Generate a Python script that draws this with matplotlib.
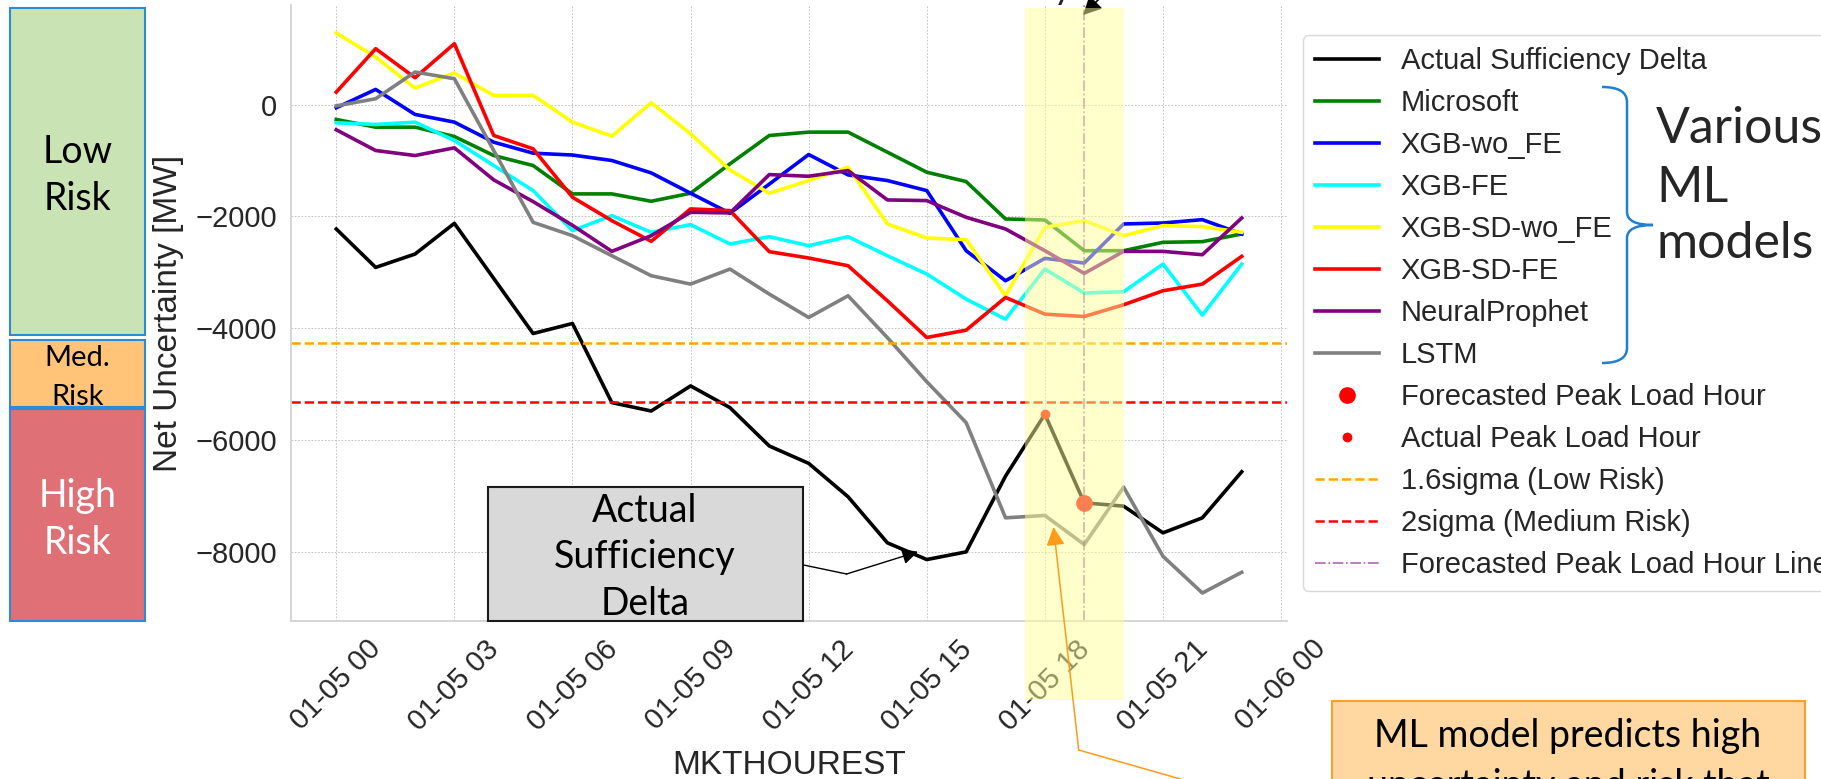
import numpy as np
import pandas as pd
import matplotlib
matplotlib.use("Agg")
import matplotlib.pyplot as plt
import matplotlib.dates as mdates
from matplotlib.patches import Rectangle, PathPatch, FancyArrowPatch
from matplotlib.path import Path
from matplotlib.lines import Line2D
from matplotlib.transforms import blended_transform_factory

# ---- data ----
hours = pd.date_range("2023-01-05 00:00", periods=24, freq="h")

actual = [-2224, -2912, -2673, -2123, -3110, -4096, -3916, -5333, -5483, -5034, -5423, -6110,
          -6421, -7019, -7844, -8143, -8006, -6649, -5542, -7127, -7187, -7665, -7396, -6571]
microsoft = [-263, -401, -401, -568, -909, -1088, -1596, -1596, -1728, -1584, -1058, -550,
             -490, -490, -849, -1208, -1375, -2045, -2063, -2613, -2613, -2463, -2451, -2314]
xgb_wo_fe = [-54, 275, -173, -311, -670, -867, -900, -998, -1220, -1584, -1943, -1420,
             -891, -1256, -1357, -1537, -2613, -3151, -2750, -2834, -2134, -2117, -2057, -2314]
xgb_fe = [-323, -353, -311, -640, -1088, -1537, -2254, -1985, -2284, -2146, -2493, -2362,
          -2523, -2362, -2703, -3031, -3480, -3839, -2942, -3372, -3348, -2852, -3767, -2852]
xgb_sd_wo_fe = [1285, 855, 299, 568, 167, 167, -311, -562, 36, -520, -1166, -1584,
                -1357, -1118, -2134, -2386, -2415, -3420, -2194, -2075, -2344, -2164, -2182, -2284]
xgb_sd_fe = [227, 1004, 484, 1094, -550, -789, -1656, -2075, -2445, -1865, -1895, -2631,
             -2744, -2882, -3510, -4167, -4036, -3450, -3749, -3791, -3581, -3330, -3211, -2714]
neural_prophet = [-448, -819, -909, -771, -1345, -1734, -2158, -2625, -2344, -1925, -1937, -1250,
                  -1280, -1178, -1704, -1716, -2015, -2224, -2613, -3019, -2625, -2625, -2685, -2027]
lstm = [-20, 108, 586, 466, -820, -2105, -2344, -2703, -3061, -3211, -2942, -3390,
        -3809, -3420, -4170, -4960, -5692, -7396, -7354, -7874, -6846, -8085, -8742, -8371]

model_names = ["Microsoft", "XGB-wo_FE", "XGB-FE", "XGB-SD-wo_FE", "XGB-SD-FE", "NeuralProphet", "LSTM"]
model_values = [microsoft, xgb_wo_fe, xgb_fe, xgb_sd_wo_fe, xgb_sd_fe, neural_prophet, lstm]
model_colors = ["green", "blue", "cyan", "yellow", "red", "purple", "gray"]

low_risk = -4270   # 1.6 sigma
med_risk = -5321   # 2 sigma
actual_peak = 18
forecast_peak = 19

# ---- figure setup ----
W, H = 1821, 779
plt.rcParams["font.family"] = ["Liberation Sans", "DejaVu Sans"]
plt.rcParams["text.color"] = "#262626"
plt.rcParams["axes.labelcolor"] = "#262626"
plt.rcParams["xtick.color"] = "#262626"
plt.rcParams["ytick.color"] = "#262626"

fig = plt.figure(figsize=(W / 100, H / 100), dpi=100)
ax = fig.add_axes([291 / W, 1 - 621 / H, 996 / W, 616 / H])


def fx(x):
    return x / W


def fy(y):
    return 1 - y / H


ax.plot(hours, actual, color="black", lw=2.6, label="Actual Sufficiency Delta")
for name, vals, c in zip(model_names, model_values, model_colors):
    ax.plot(hours, vals, color=c, lw=2.6, label=name)

ax.plot(hours[forecast_peak], actual[forecast_peak], "o", color="red", ms=11,
        label="Forecasted Peak Load Hour")
ax.plot(hours[actual_peak], actual[actual_peak], "o", color="red", ms=6,
        label="Actual Peak Load Hour")
ax.axhline(low_risk, color="orange", ls="--", lw=1.8, label="1.6sigma (Low Risk)")
ax.axhline(med_risk, color="red", ls="--", lw=1.8, label="2sigma (Medium Risk)")
ax.axvline(hours[forecast_peak], color="purple", alpha=0.6, ls="-.", lw=1.2,
           label="Forecasted Peak Load Hour Line")

ax.xaxis.set_major_locator(mdates.HourLocator(byhour=range(0, 24, 3)))
ax.xaxis.set_major_formatter(mdates.DateFormatter("%m-%d %H"))
ax.tick_params(axis="both", length=0, pad=10, labelsize=21)
ax.tick_params(axis="x", labelrotation=45)
ax.set_xlabel("MKTHOUREST", fontsize=24, labelpad=10)
ax.set_ylabel("Net Uncertainty [MW]", fontsize=24, labelpad=8)
ax.grid(True, color="#b8b8b8", ls=(0, (2, 2)), lw=0.6)
ax.set_axisbelow(True)
for s in ax.spines.values():
    s.set_color("#d0d0d0")
    s.set_linewidth(1.25)
ax.spines["top"].set_visible(False)
ax.spines["right"].set_visible(False)

leg = ax.legend(loc="upper left", bbox_to_anchor=(1.016, 0.951), borderaxespad=0,
                fontsize=21, labelspacing=0.48, handlelength=2.2, handletextpad=0.75,
                edgecolor="#d0d0d0", fancybox=True)
for t in leg.get_texts():
    t.set_color("#262626")

# ---- overlay annotations ----
lato = ["Lato", "DejaVu Sans"]


def lines_at(x, baselines, texts, size, color="black"):
    for yb, t in zip(baselines, texts):
        fig.text(fx(x), fy(yb), t, ha="center", va="baseline", fontsize=size,
                 family=lato, color=color, zorder=12)


# risk boxes on the left
risk_boxes = [(8, 335, "#c9e3b4"), (340, 407, "#ffc478"), (409, 621, "#de7076")]
for y0, y1, c in risk_boxes:
    fig.add_artist(Rectangle((fx(10), fy(y1)), 135 / W, (y1 - y0) / H, transform=fig.transFigure,
                             facecolor=c, edgecolor="#2a8cd2", lw=1.5, zorder=3))
lines_at(77.5, [163, 210], ["Low", "Risk"], 27)
lines_at(77.5, [366.5, 405], ["Med.", "Risk"], 21)
lines_at(77.5, [506.5, 553.5], ["High", "Risk"], 27, color="white")

# box for the actual line
fig.add_artist(Rectangle((fx(488), fy(621)), 315 / W, 134 / H, transform=fig.transFigure,
                         facecolor="#d9d9d9", edgecolor="#1a1a1a", lw=1.5, zorder=6))
lines_at(645, [521.5, 568, 615], ["Actual", "Sufficiency", "Delta"], 27)
fig.add_artist(Line2D([fx(803.6), fx(846.6)], [fy(565), fy(574)], transform=fig.transFigure,
                      color="black", lw=1, zorder=7))
fig.add_artist(FancyArrowPatch((fx(846.6), fy(574)), (fx(918), fy(551.7)), transform=fig.transFigure,
                               arrowstyle="-|>", mutation_scale=24, color="black", lw=1,
                               shrinkA=0, shrinkB=0, zorder=7))

# cut-off annotation at the top
fig.text(fx(1073), 1 + 2 / H, "Peak Uncertainty", ha="right", va="baseline", fontsize=27, family=lato)
fig.add_artist(FancyArrowPatch((fx(1106), fy(-8)), (fx(1083), fy(15)), transform=fig.transFigure,
                               arrowstyle="-|>", mutation_scale=28, color="black", lw=1.2,
                               shrinkA=0, shrinkB=0, zorder=5))

# highlighted window around the peak
trans = blended_transform_factory(ax.transData, fig.transFigure)
b0 = mdates.date2num(hours[0] + pd.Timedelta(hours=17.5))
b1 = mdates.date2num(hours[0] + pd.Timedelta(hours=20.0))
fig.add_artist(Rectangle((b0, fy(700)), b1 - b0, 692 / H, transform=trans,
                         facecolor=(1, 1, 0.6), edgecolor="none", alpha=0.5, zorder=10))

# orange call-out
fig.add_artist(Line2D([fx(1078.7), fx(1176.8), fx(1215)], [fy(750), fy(778), fy(789)],
                      transform=fig.transFigure, color="#ff9a1a", lw=1.1, zorder=11))
fig.add_artist(FancyArrowPatch((fx(1078.7), fy(750)), (fx(1053.5), fy(527)), transform=fig.transFigure,
                               arrowstyle="-|>", mutation_scale=28, color="#ff9a1a", lw=1.1,
                               shrinkA=0, shrinkB=0, zorder=11))
fig.add_artist(Rectangle((fx(1331.6), fy(830)), 473 / W, 129 / H, transform=fig.transFigure,
                         facecolor="#fed8a0", edgecolor="#f5a030", lw=1.5, zorder=11))
lines_at(1568, [746.5, 797], ["ML model predicts high", "uncertainty and risk that"], 27)

# brace + "Various ML models"
bp = [(1602, 87), (1627, 87), (1627, 102), (1627, 212), (1627, 225), (1653, 225),
      (1627, 225), (1627, 238), (1627, 348), (1627, 363), (1602, 363)]
codes = [Path.MOVETO, Path.CURVE3, Path.CURVE3, Path.LINETO, Path.CURVE3, Path.CURVE3,
         Path.CURVE3, Path.CURVE3, Path.LINETO, Path.CURVE3, Path.CURVE3]
brace = Path([(fx(x), fy(y)) for x, y in bp], codes)
fig.add_artist(PathPatch(brace, transform=fig.transFigure, facecolor="none",
                         edgecolor="#2080d0", lw=1.8, zorder=12))
for yb, t in zip([143, 202, 258], ["Various", "ML", "models"]):
    fig.text(fx(1656), fy(yb), t, ha="left", va="baseline", fontsize=36, family=lato, zorder=12)

fig.savefig("out.png", dpi=100)
